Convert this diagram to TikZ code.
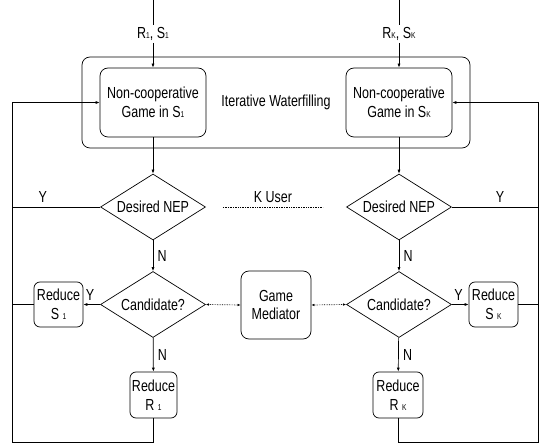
\documentclass[tikz,border=0pt]{standalone}
\usepackage{fontspec}
\setmainfont{Liberation Sans}[FakeStretch=0.78]
\usetikzlibrary{arrows.meta,shapes.geometric}
\newcommand{\idx}[1]{{\fontsize{8.5}{8.5}\selectfont #1}}

\begin{document}
\begin{tikzpicture}[
		x=1pt, y=-1pt,
		line width=0.7pt,
		font=\fontsize{16}{18.5}\selectfont,
		arrow/.style={-{Latex[length=4pt,width=3pt]}},
		dotarrow/.style={densely dotted, {Latex[length=3pt,width=2.5pt]}-{Latex[length=3pt,width=2.5pt]}},
		block/.style={draw, rounded corners=8pt, align=center, inner sep=0pt},
		decision/.style={draw, diamond, shape aspect=1.6, inner sep=0pt, minimum width=105pt, minimum height=66pt},
		lbl/.style={inner sep=2pt},
	]
		\useasboundingbox (0,0) rectangle (541,446);

		\node (iwf) at (276,102.5) [block, minimum width=388pt, minimum height=91pt] {Iterative Waterfilling};
		\node (game1) at (153,102.5) [block, minimum width=106pt, minimum height=69pt] {Non-cooperative\\Game in S\idx{1}};
		\node (gameK) at (399,102.5) [block, minimum width=106pt, minimum height=69pt] {Non-cooperative\\Game in S\idx{K}};

		\coordinate (top1) at (153,0);
		\coordinate (topK) at (399,0);
		\node (in1) at (153,34) [lbl] {R\idx{1}, S\idx{1}};
		\node (inK) at (399,34) [lbl] {R\idx{K}, S\idx{K}};
		\draw (top1) -- (in1);
		\draw (topK) -- (inK);
		\draw[arrow] (in1) -- (game1);
		\draw[arrow] (inK) -- (gameK);

		\node (nep1) at (153,207) [decision] {Desired NEP};
		\node (nepK) at (399,207) [decision] {Desired NEP};
		\node (cand1) at (153,304.5) [decision] {Candidate?};
		\node (candK) at (399,304.5) [decision] {Candidate?};
		\node (med) at (276,305) [block, minimum width=70pt, minimum height=68pt] {Game\\Mediator};

		\node (rs1) at (58.5,304.5) [block, rounded corners=6pt, minimum width=49pt, minimum height=45pt] {Reduce\\S \idx{1}};
		\node (rsK) at (493.5,304.5) [block, rounded corners=6pt, minimum width=49pt, minimum height=45pt] {Reduce\\S \idx{K}};
		\node (rr1) at (153.5,395) [block, rounded corners=6pt, minimum width=47pt, minimum height=46pt] {Reduce\\R \idx{1}};
		\node (rrK) at (398,395) [block, rounded corners=6pt, minimum width=50pt, minimum height=46pt] {Reduce\\R \idx{K}};

		\coordinate (fb1) at (12,442);
		\coordinate (fbK) at (538,442);

		\draw[arrow] (game1) -- (nep1);
		\draw[arrow] (gameK) -- (nepK);
		\draw[arrow] (nep1) -- node[right=1pt] {N} (cand1);
		\draw[arrow] (nepK) -- node[right=1pt] {N} (candK);
		\draw[arrow] (cand1) -- node[right=1pt] {N} (rr1);
		\draw[arrow] (candK) -- node[right=1pt] {N} (rrK);
		\draw[arrow] (cand1.west) -- node[above=0pt, pos=0.6] {Y} (rs1.east);
		\draw[arrow] (candK.east) -- node[above=0pt, pos=0.4] {Y} (rsK.west);

		\draw[dotarrow] (cand1.east) -- (med.west);
		\draw[dotarrow] (candK.west) -- (med.east);
		\draw[densely dotted] ([xshift=17pt]nep1.east) -- node[above=1pt] {K User} ([xshift=-23pt]nepK.west);

		\draw (nep1.west) -- node[above=1pt, pos=0.65] {Y} (nep1.west -| fb1);
		\draw (nepK.east) -- node[above=1pt, pos=0.56] {Y} (nepK.east -| fbK);
		\draw (rs1.west) -- (rs1.west -| fb1);
		\draw (rsK.east) -- (rsK.east -| fbK);
		\draw[arrow] (rr1.south) |- (fb1) |- (game1.west);
		\draw[arrow] (rrK.south) |- (fbK) |- (gameK.east);
	\end{tikzpicture}
\end{document}
